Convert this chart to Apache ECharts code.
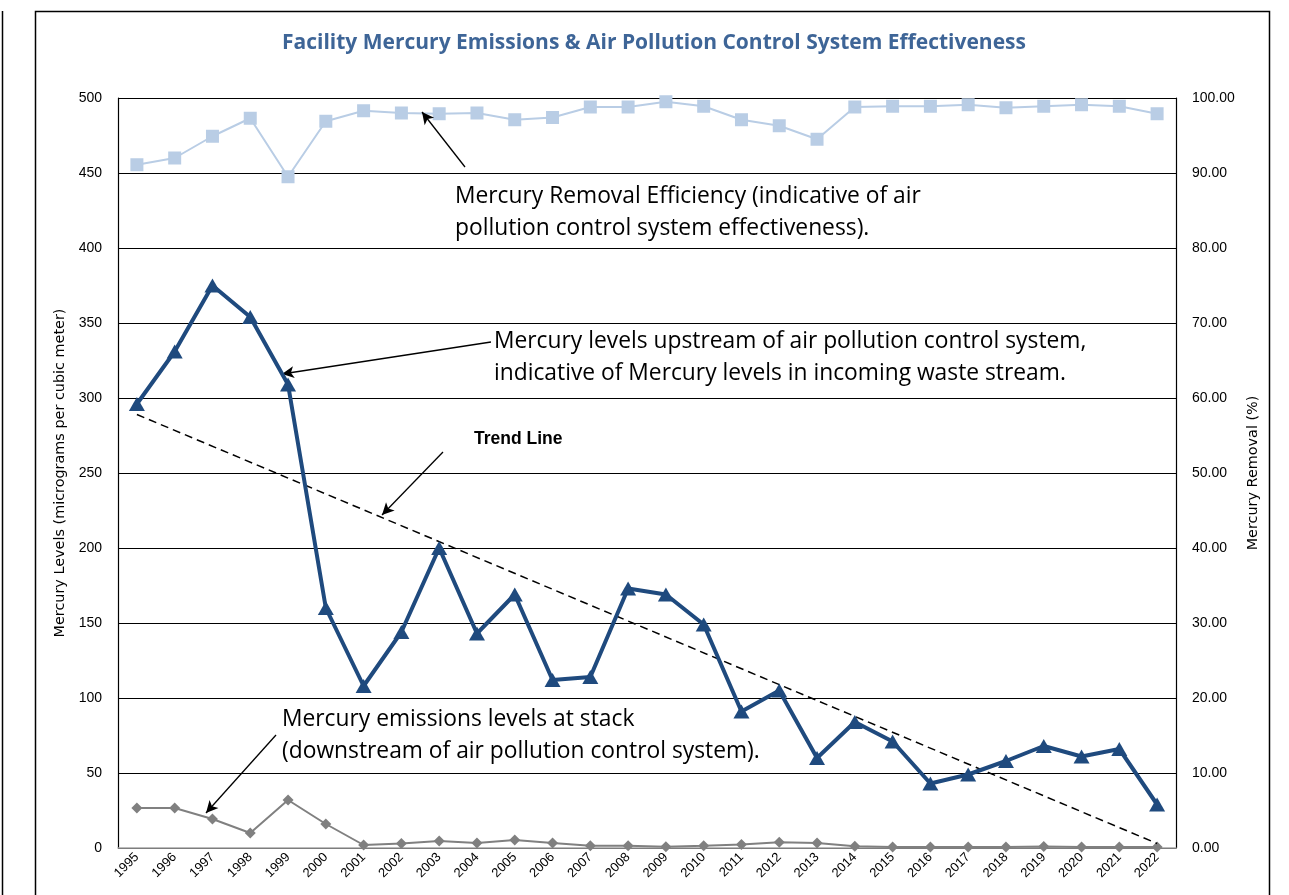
<!DOCTYPE html>
<html><head><meta charset="utf-8">
<script src="https://cdn.jsdelivr.net/npm/echarts@6/dist/echarts.min.js"></script>
<style>html,body{margin:0;padding:0;background:#fff}#c{width:1289px;height:895px}</style>
</head><body><div id="c"></div>
<script>
const years = ['1995','1996','1997','1998','1999','2000','2001','2002','2003','2004','2005','2006','2007','2008','2009','2010','2011','2012','2013','2014','2015','2016','2017','2018','2019','2020','2021','2022'];
const upstream = [296,331,375,354,309,160,108,144,200,143,169,112,114,173,169,149,91,105,60,84,71,43,49,58,68,61,66,29];
const stack = [26.7,26.7,19.3,10,32,16,2,3,4.7,3.3,5.3,3.3,1.5,1.5,0.9,1.5,2.4,3.8,3.3,1.1,0.7,0.7,0.6,0.7,1,0.6,0.6,0.6];
const removal = [91.1,92.0,94.9,97.3,89.5,96.9,98.3,98.0,97.9,98.0,97.1,97.4,98.8,98.8,99.5,98.9,97.1,96.3,94.5,98.8,98.9,98.9,99.1,98.7,98.9,99.1,98.9,97.9];
const trendStart = 289, trendEnd = 3;
const leftTicks = {min:0,max:500,interval:50};
const rightTicks = {min:0,max:100,interval:10};

const FONT = 'Liberation Sans';
const ANN = 'Open Sans';
const chart = echarts.init(document.getElementById('c'));
const annText = (x,y,lines,extra) => ({type:'text',left:x,top:y,style:Object.assign({text:lines.join('\n'),fontFamily:ANN,fontSize:22.8,lineHeight:32,fill:'#000'},extra||{})});
const arrow = (x1,y1,x2,y2) => [{x:x1,y:y1,symbol:'none'},{x:x2,y:y2,symbol:'arrow'}];

chart.setOption({
  animation:false,
  title:{text:'Facility Mercury Emissions & Air Pollution Control System Effectiveness',left:277,top:28,
    textStyle:{fontFamily:ANN,fontSize:21,fontWeight:'bold',color:'#3E6597'}},
  grid:{left:118,right:113,top:98,bottom:47},
  xAxis:{type:'category',data:years,boundaryGap:true,
    axisLine:{lineStyle:{color:'#A6A6A6',width:1.5}},axisTick:{show:false},
    axisLabel:{rotate:45,fontFamily:FONT,fontSize:13,color:'#000',margin:7,interval:0}},
  yAxis:[
    {type:'value',min:leftTicks.min,max:leftTicks.max,interval:leftTicks.interval,
      name:'Mercury Levels (micrograms per cubic meter)',nameLocation:'middle',nameGap:48,nameRotate:90,
      nameTextStyle:{fontFamily:'DejaVu Sans',fontSize:14.4,color:'#000'},
      axisLine:{show:true,lineStyle:{color:'#000',width:1.2}},axisTick:{show:false},
      axisLabel:{fontFamily:FONT,fontSize:14,color:'#000',margin:16},
      splitLine:{lineStyle:{color:'#000',width:1.2}}},
    {type:'value',min:rightTicks.min,max:rightTicks.max,interval:rightTicks.interval,position:'right',
      name:'Mercury Removal (%)',nameLocation:'middle',nameGap:70,nameRotate:90,
      nameTextStyle:{fontFamily:'DejaVu Sans',fontSize:14.4,color:'#000'},
      axisLine:{show:true,lineStyle:{color:'#000',width:1.2}},axisTick:{show:false},
      axisLabel:{fontFamily:FONT,fontSize:14,color:'#000',margin:16,formatter:v=>v.toFixed(2)},
      splitLine:{show:false}}
  ],
  series:[
    {name:'Removal',type:'line',yAxisIndex:1,data:removal,symbol:'rect',symbolSize:13,
      lineStyle:{color:'#B9CDE5',width:2},itemStyle:{color:'#B9CDE5'},z:3},
    {name:'Stack',type:'line',data:stack,symbol:'diamond',symbolSize:11,
      lineStyle:{color:'#808080',width:2},itemStyle:{color:'#808080'},z:4},
    {name:'Upstream',type:'line',data:upstream,symbol:'triangle',symbolSize:[16,14],
      lineStyle:{color:'#1F4A7E',width:4},itemStyle:{color:'#1F4A7E'},z:5,
      markLine:{silent:true,symbol:'none',label:{show:false},
        lineStyle:{color:'#000',type:[8,5],width:1.5},
        data:[[{coord:['1995',trendStart]},{coord:['2022',trendEnd]}]]}},
    {name:'Annotations',type:'line',data:[],
      markLine:{silent:true,symbolSize:[9,12],label:{show:false},lineStyle:{color:'#000',type:'solid',width:1.3},
        data:[arrow(465,167,422,112),arrow(491,342,282,374),arrow(443,452,382,515),arrow(276,735,206,813)]}}
  ],
  graphic:[
    {type:'rect',shape:{x:35.5,y:11.5,width:1234,height:900},style:{fill:'none',stroke:'#000',lineWidth:1.5},silent:true},
    {type:'line',shape:{x1:2.5,y1:11,x2:2.5,y2:895},style:{stroke:'#000',lineWidth:1.5},silent:true},
    annText(455,181,['Mercury Removal Efficiency (indicative of air','pollution control system effectiveness).']),
    annText(494,326,['Mercury levels upstream of air pollution control system,','indicative of Mercury levels in incoming waste stream.']),
    annText(474,426,['Trend Line'],{fontFamily:FONT,fontWeight:'bold',fontSize:17.5,lineHeight:26}),
    annText(282,704,['Mercury emissions levels at stack','(downstream of air pollution control system).'])
  ]
});
</script></body></html>
